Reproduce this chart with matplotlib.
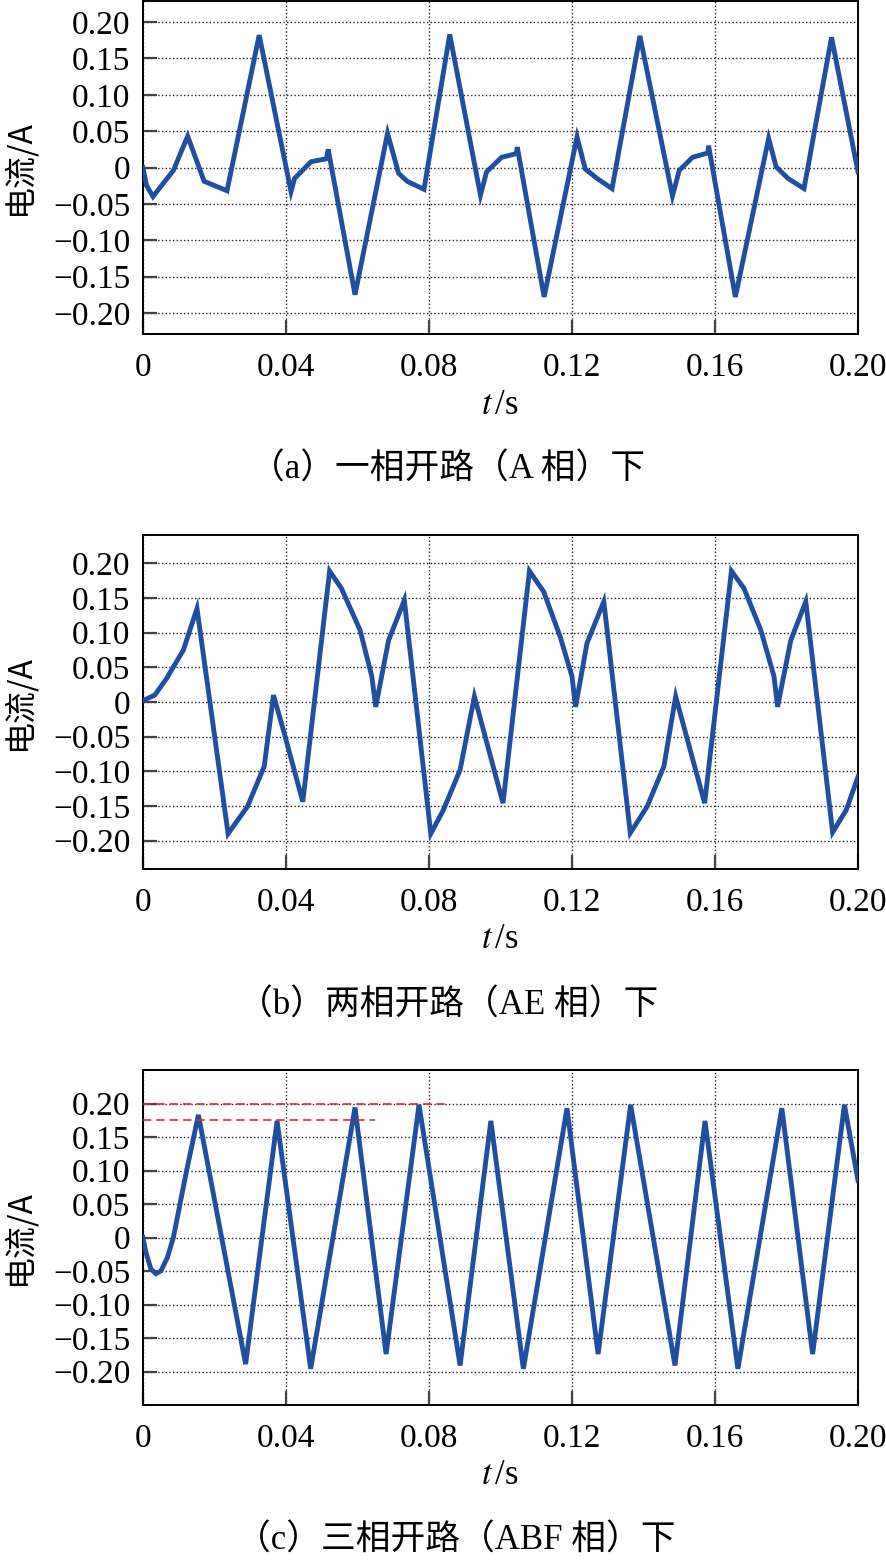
import matplotlib
matplotlib.use("Agg")
import matplotlib.pyplot as plt
import numpy as np

plt.rcParams['font.family'] = ['Liberation Serif', 'Noto Sans CJK SC', 'DejaVu Sans']
plt.rcParams['mathtext.fontset'] = 'stix'

# ---- data ----
t_a = [0.0, 0.001, 0.0028, 0.0085, 0.0125, 0.0171, 0.0235, 0.0325, 0.0414, 0.0424,
       0.047, 0.0513, 0.0518, 0.0593, 0.0684, 0.0715, 0.0739, 0.0786, 0.0858, 0.0944,
       0.0961, 0.1003, 0.1044, 0.1047, 0.1122, 0.1214, 0.1237, 0.127, 0.1312, 0.139,
       0.1481, 0.150, 0.1537, 0.158, 0.1582, 0.1657, 0.175, 0.1771, 0.1804, 0.1849,
       0.1926, 0.200]
i_a = [0.0, -0.025, -0.040, -0.004, 0.043, -0.019, -0.032, 0.182, -0.033, -0.015,
       0.008, 0.012, 0.025, -0.175, 0.047, -0.008, -0.019, -0.030, 0.183, -0.038,
       -0.006, 0.014, 0.019, 0.028, -0.178, 0.042, -0.002, -0.015, -0.029, 0.181,
       -0.039, -0.004, 0.014, 0.020, 0.030, -0.178, 0.040, 0.001, -0.015, -0.029,
       0.179, -0.006]

t_b = [0.0, 0.0033, 0.0066, 0.0113, 0.0151, 0.0238, 0.0292, 0.0339, 0.0365, 0.0395,
       0.0447, 0.0522, 0.0555, 0.0607, 0.064, 0.0651, 0.0687, 0.0731, 0.0805, 0.084,
       0.0887, 0.0927, 0.1007, 0.1081, 0.1121, 0.1167, 0.120, 0.121, 0.1242, 0.1289,
       0.1363, 0.141, 0.1457, 0.149, 0.1571, 0.1646, 0.1681, 0.1728, 0.1765, 0.1775,
       0.1812, 0.1854, 0.1929, 0.1967, 0.200]
i_b = [0.002, 0.010, 0.034, 0.075, 0.135, -0.190, -0.151, -0.093, 0.010, -0.045,
       -0.144, 0.189, 0.164, 0.104, 0.037, -0.007, 0.089, 0.147, -0.190, -0.156,
       -0.098, 0.008, -0.146, 0.189, 0.159, 0.094, 0.037, -0.007, 0.085, 0.145,
       -0.189, -0.151, -0.093, 0.008, -0.146, 0.189, 0.164, 0.104, 0.037, -0.007,
       0.089, 0.145, -0.188, -0.156, -0.108]

t_c = [0.0, 0.0008, 0.0022, 0.0036, 0.005, 0.0068, 0.0085, 0.0122, 0.0155, 0.0287,
       0.0375, 0.0469, 0.0593, 0.068, 0.0772, 0.0887, 0.0973, 0.1064, 0.1186, 0.1273,
       0.1364, 0.1488, 0.1572, 0.1664, 0.1787, 0.1873, 0.1962, 0.200]
i_c = [0.0, -0.022, -0.047, -0.054, -0.050, -0.030, 0.0, 0.100, 0.183, -0.189,
       0.174, -0.196, 0.194, -0.174, 0.198, -0.191, 0.174, -0.196, 0.193, -0.174,
       0.198, -0.191, 0.174, -0.196, 0.193, -0.174, 0.198, 0.085]

# reference levels drawn in panel (c)
ref_levels = [0.200, 0.175]
ref_ends = [0.0845, 0.065]

xticks = [0, 0.04, 0.08, 0.12, 0.16, 0.20]
xticklabels = ["0", "0.04", "0.08", "0.12", "0.16", "0.20"]
yticks = [0.20, 0.15, 0.10, 0.05, 0, -0.05, -0.10, -0.15, -0.20]
yticklabels = ["0.20", "0.15", "0.10", "0.05", "0", "\u22120.05", "\u22120.10", "\u22120.15", "\u22120.20"]

captions = ["（a）一相开路（A 相）下", "（b）两相开路（AE 相）下", "（c）三相开路（ABF 相）下"]

W, H = 886, 1561
fig = plt.figure(figsize=(W / 100, H / 100), dpi=100)

# layout in pixels: (top, bottom, ylim)
panels = [
    (1, 334, 0.229, t_a, i_a),
    (535, 869, 0.241, t_b, i_b),
    (1070, 1405, 0.250, t_c, i_c),
]
xlabel_y = [406, 940, 1475]
caption_y = [470, 1006, 1541]
caption_x = [447, 448, 456]

blue = "#1f4f9e"

for k, (top, bot, ylim, t, cur) in enumerate(panels):
    ax = fig.add_axes([143 / W, 1 - bot / H, 715 / W, (bot - top) / H])
    ax.plot(t, cur, color=blue, lw=3.5, solid_joinstyle='miter', zorder=3)
    ax.set_xlim(0, 0.2)
    ax.set_ylim(-ylim, ylim)
    ax.set_xticks(xticks)
    ax.set_xticklabels(xticklabels)
    ax.set_yticks(yticks)
    ax.set_yticklabels(yticklabels)
    ax.tick_params(direction='in', length=10, width=1.6, color='#444444',
                   labelsize=24, top=False, right=False)
    ax.tick_params(axis='x', pad=13)
    ax.tick_params(axis='y', pad=9)
    ax.grid(True, linestyle=':', color='#222222', linewidth=1.0)
    for s in ax.spines.values():
        s.set_linewidth(1.4)
        s.set_color('black')

    if k == 2:
        for lev, end in zip(ref_levels, ref_ends):
            ax.plot([0, end], [lev, lev], color='#e0292b', lw=1.2, ls=(0, (5, 3)), zorder=4)

    fig.text(19 / W, 1 - (top + bot) / 2 / H, "电流/A", rotation=90,
             ha='center', va='center', fontsize=23,
             family=['Noto Sans CJK SC', 'DejaVu Sans'])
    fig.text(500 / W, 1 - xlabel_y[k] / H, "$t\\,$/s", ha='center', va='center', fontsize=25)
    fig.text(caption_x[k] / W, 1 - caption_y[k] / H, captions[k],
             ha='center', va='center', fontsize=25)

fig.savefig("out.png", dpi=100)
